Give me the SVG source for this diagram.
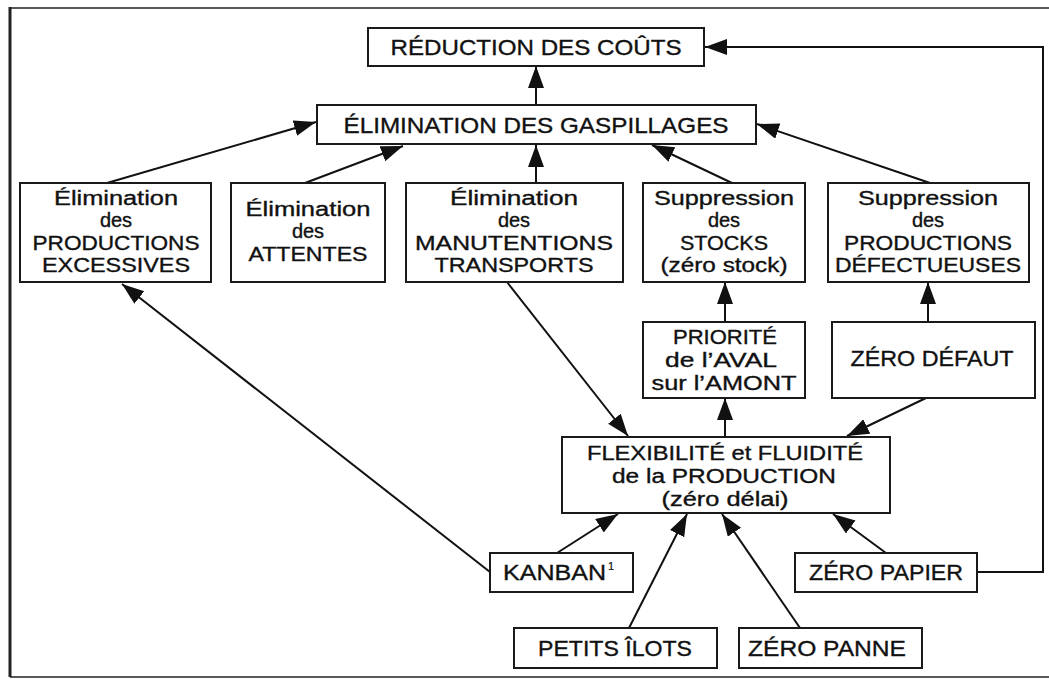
<svg xmlns="http://www.w3.org/2000/svg" width="1049" height="679" viewBox="0 0 1049 679">
<defs>
<style>
.box{fill:#fff;stroke:#1a1a1a;stroke-width:2}
.t{font-family:"Liberation Sans",Arial,sans-serif;font-size:22px;fill:#111;stroke:#111;stroke-width:0.35;text-anchor:middle}
.m{font-size:20px}
.c{stroke:#111;stroke-width:2;fill:none;marker-end:url(#ah)}
.frame{stroke:#222;fill:none}
</style>
<marker id="ah" markerUnits="userSpaceOnUse" markerWidth="24" markerHeight="18" refX="22" refY="8" orient="auto">
<path d="M0,0 L22,8 L0,16 Z" fill="#111"/>
</marker>
</defs>
<rect width="1049" height="679" fill="#fff"/>
<g id="frame">
<line class="frame" x1="10" y1="7" x2="10" y2="677" stroke-width="3"/>
<line class="frame" x1="10" y1="8" x2="1049" y2="8" stroke-width="1.5"/>
<line class="frame" x1="10" y1="677" x2="1049" y2="677" stroke-width="1.5"/>
</g>
<g id="connectors">
<line class="c" x1="536" y1="105" x2="536" y2="66"/>
<line class="c" x1="107" y1="183" x2="316" y2="122"/>
<line class="c" x1="305" y1="183" x2="403" y2="146"/>
<line class="c" x1="536" y1="183" x2="536" y2="145"/>
<line class="c" x1="732" y1="183" x2="652" y2="145"/>
<line class="c" x1="930" y1="183" x2="757" y2="124"/>
<line class="c" x1="725" y1="322" x2="725" y2="282"/>
<line class="c" x1="928" y1="322" x2="928" y2="282"/>
<line class="c" x1="507" y1="282" x2="628" y2="436"/>
<line class="c" x1="725" y1="437" x2="725" y2="398"/>
<line class="c" x1="926" y1="398" x2="847" y2="436"/>
<line class="c" x1="557" y1="553" x2="618" y2="514"/>
<line class="c" x1="490" y1="572" x2="122" y2="284"/>
<line class="c" x1="629" y1="628" x2="687" y2="514"/>
<line class="c" x1="800" y1="628" x2="722" y2="514"/>
<line class="c" x1="886" y1="553" x2="833" y2="514"/>
<polyline class="c" points="977,572 1043,572 1043,47 705,47"/>
</g>
<g id="reduction">
<rect class="box" x="368" y="28" width="336" height="38"/>
<text class="t" x="536" y="55" textLength="291" lengthAdjust="spacingAndGlyphs">RÉDUCTION DES COÛTS</text>
</g>
<g id="gaspillages">
<rect class="box" x="317" y="105" width="439" height="39"/>
<text class="t" x="536" y="133" textLength="385" lengthAdjust="spacingAndGlyphs">ÉLIMINATION DES GASPILLAGES</text>
</g>
<g id="productions-excessives">
<rect class="box" x="20" y="183" width="191" height="99"/>
<text class="t m" x="116" y="205" textLength="124" lengthAdjust="spacingAndGlyphs">Élimination</text>
<text class="t m" x="116" y="227.4">des</text>
<text class="t m" x="116" y="249.8" textLength="167" lengthAdjust="spacingAndGlyphs">PRODUCTIONS</text>
<text class="t m" x="116" y="272.2" textLength="148" lengthAdjust="spacingAndGlyphs">EXCESSIVES</text>
</g>
<g id="attentes">
<rect class="box" x="231" y="183" width="154" height="99"/>
<text class="t m" x="308" y="216" textLength="125" lengthAdjust="spacingAndGlyphs">Élimination</text>
<text class="t m" x="308" y="238.4">des</text>
<text class="t m" x="308" y="260.8" textLength="119" lengthAdjust="spacingAndGlyphs">ATTENTES</text>
</g>
<g id="manutentions">
<rect class="box" x="406" y="183" width="217" height="99"/>
<text class="t m" x="514" y="205" textLength="128" lengthAdjust="spacingAndGlyphs">Élimination</text>
<text class="t m" x="514" y="227.4">des</text>
<text class="t m" x="514" y="249.8" textLength="198" lengthAdjust="spacingAndGlyphs">MANUTENTIONS</text>
<text class="t m" x="514" y="272.2" textLength="159" lengthAdjust="spacingAndGlyphs">TRANSPORTS</text>
</g>
<g id="stocks">
<rect class="box" x="643" y="183" width="162" height="99"/>
<text class="t m" x="724" y="205" textLength="140" lengthAdjust="spacingAndGlyphs">Suppression</text>
<text class="t m" x="724" y="227.4">des</text>
<text class="t m" x="724" y="249.8" textLength="88" lengthAdjust="spacingAndGlyphs">STOCKS</text>
<text class="t m" x="724" y="272.2" textLength="127" lengthAdjust="spacingAndGlyphs">(zéro stock)</text>
</g>
<g id="defectueuses">
<rect class="box" x="828" y="183" width="201" height="99"/>
<text class="t m" x="928" y="205" textLength="140" lengthAdjust="spacingAndGlyphs">Suppression</text>
<text class="t m" x="928" y="227.4">des</text>
<text class="t m" x="928" y="249.8" textLength="168" lengthAdjust="spacingAndGlyphs">PRODUCTIONS</text>
<text class="t m" x="928" y="272.2" textLength="186" lengthAdjust="spacingAndGlyphs">DÉFECTUEUSES</text>
</g>
<g id="priorite">
<rect class="box" x="643" y="322" width="162" height="76"/>
<text class="t m" x="725" y="344" textLength="104" lengthAdjust="spacingAndGlyphs">PRIORITÉ</text>
<text class="t m" x="721" y="367" textLength="112" lengthAdjust="spacingAndGlyphs">de l’AVAL</text>
<text class="t m" x="724" y="390" textLength="145" lengthAdjust="spacingAndGlyphs">sur l’AMONT</text>
</g>
<g id="zero-defaut">
<rect class="box" x="832" y="322" width="203" height="76"/>
<text class="t" x="932" y="366" textLength="163" lengthAdjust="spacingAndGlyphs">ZÉRO DÉFAUT</text>
</g>
<g id="flexibilite">
<rect class="box" x="562" y="437" width="328" height="76"/>
<text class="t m" x="725" y="460" textLength="276" lengthAdjust="spacingAndGlyphs">FLEXIBILITÉ et FLUIDITÉ</text>
<text class="t m" x="724" y="483" textLength="224" lengthAdjust="spacingAndGlyphs">de la PRODUCTION</text>
<text class="t m" x="725" y="506" textLength="127" lengthAdjust="spacingAndGlyphs">(zéro délai)</text>
</g>
<g id="kanban">
<rect class="box" x="490" y="553" width="143" height="39"/>
<text class="t" x="503" y="580" style="text-anchor:start" textLength="103" lengthAdjust="spacingAndGlyphs">KANBAN</text>
<text class="t" x="608" y="570" style="text-anchor:start;font-size:11px;stroke-width:0.2">1</text>
</g>
<g id="zero-papier">
<rect class="box" x="795" y="553" width="182" height="39"/>
<text class="t" x="886" y="580" textLength="154" lengthAdjust="spacingAndGlyphs">ZÉRO PAPIER</text>
</g>
<g id="petits-ilots">
<rect class="box" x="514" y="628" width="203" height="40"/>
<text class="t" x="615" y="656" textLength="154" lengthAdjust="spacingAndGlyphs">PETITS ÎLOTS</text>
</g>
<g id="zero-panne">
<rect class="box" x="739" y="628" width="183" height="40"/>
<text class="t" x="827" y="656" textLength="158" lengthAdjust="spacingAndGlyphs">ZÉRO PANNE</text>
</g>
</svg>
